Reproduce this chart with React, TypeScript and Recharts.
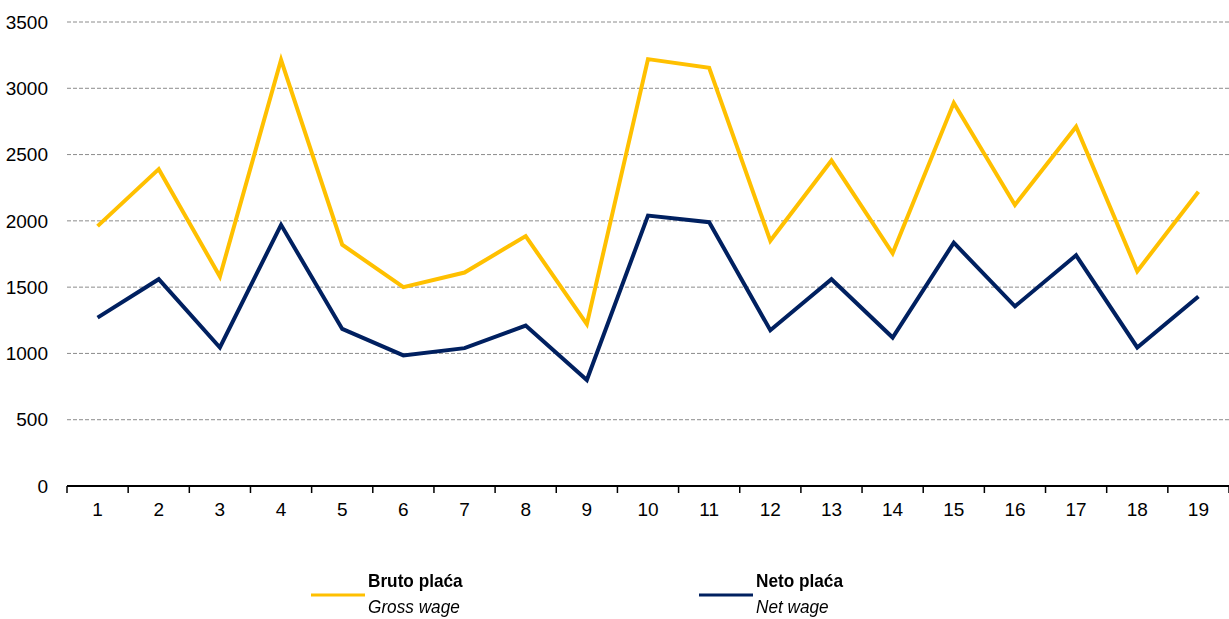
import React from 'react';
import { LineChart, Line, XAxis, YAxis, CartesianGrid, Legend } from 'recharts';

const categories = [1, 2, 3, 4, 5, 6, 7, 8, 9, 10, 11, 12, 13, 14, 15, 16, 17, 18, 19];
const grossWage = [1960, 2390, 1580, 3215, 1820, 1500, 1610, 1885, 1220, 3220, 3155, 1850, 2455, 1755, 2890, 2120, 2710, 1620, 2220];
const netWage = [1270, 1560, 1045, 1970, 1185, 985, 1040, 1210, 800, 2040, 1990, 1175, 1560, 1120, 1835, 1355, 1740, 1045, 1430];
const yTicks = [0, 500, 1000, 1500, 2000, 2500, 3000, 3500];
const boundaryTicks = [0.5, 1.5, 2.5, 3.5, 4.5, 5.5, 6.5, 7.5, 8.5, 9.5, 10.5, 11.5, 12.5, 13.5, 14.5, 15.5, 16.5, 17.5, 18.5, 19.5];
const seriesKeys = ['gross', 'net'];
const seriesTitles = ['Bruto plaća', 'Neto plaća'];
const seriesSubtitles = ['Gross wage', 'Net wage'];
const seriesColors = ['#FFC000', '#002060'];

const data = categories.map((c, i) => ({ cat: c, gross: grossWage[i], net: netWage[i] }));

const FONT = "'Liberation Sans', Arial, sans-serif";

const LegendContent = () => (
  <div style={{ display: 'flex', paddingLeft: 311, fontFamily: FONT, fontSize: 18.5, color: '#000' }}>
    {seriesKeys.map((k, i) => (
      <div key={k} style={{ display: 'flex', width: 388, alignItems: 'flex-start' }}>
        <svg width={57} height={52} style={{ flex: 'none', display: 'block' }}>
          <line x1={0} y1={27} x2={54} y2={27} stroke={seriesColors[i]} strokeWidth={3} />
        </svg>
        <div style={{ lineHeight: '26px', transform: 'scaleX(0.93)', transformOrigin: 'left top', whiteSpace: 'nowrap' }}>
          <div style={{ fontWeight: 'bold' }}>{seriesTitles[i]}</div>
          <div style={{ fontStyle: 'italic' }}>{seriesSubtitles[i]}</div>
        </div>
      </div>
    ))}
  </div>
);

export default function App() {
  return (
    <div style={{ position: 'fixed', left: 0, top: 0, width: 1229, height: 619, background: '#fff' }}>
      <LineChart width={1229} height={619} data={data} margin={{ top: 22, right: 0, left: 0, bottom: 92 }}>
        <CartesianGrid xAxisId="b" vertical={false} stroke="#8c8c8c" strokeDasharray="4 2" strokeWidth={1} />
        <XAxis
          xAxisId="b"
          type="number"
          dataKey="cat"
          domain={[0.5, 19.5]}
          ticks={categories}
          interval={0}
          height={40}
          tickSize={6}
          tickMargin={10}
          axisLine={false}
          tickLine={false}
          tick={{ fill: '#000', fontSize: 19, fontFamily: FONT }}
        />
        <XAxis
          xAxisId="a"
          type="number"
          dataKey="cat"
          domain={[0.5, 19.5]}
          ticks={boundaryTicks}
          height={1}
          interval={0}
          tickSize={7}
          tickFormatter={() => ''}
          axisLine={{ stroke: '#000', strokeWidth: 2 }}
          tickLine={{ stroke: '#000', strokeWidth: 1.5 }}
        />
        <YAxis
          domain={[0, 3500]}
          ticks={yTicks}
          width={67}
          interval={0}
          axisLine={false}
          tickLine={false}
          tickSize={6}
          tickMargin={13}
          tick={{ fill: '#000', fontSize: 19, fontFamily: FONT }}
        />
        <Line xAxisId="b" type="linear" dataKey="gross" stroke={seriesColors[0]} strokeWidth={4} dot={false} isAnimationActive={false} />
        <Line xAxisId="b" type="linear" dataKey="net" stroke={seriesColors[1]} strokeWidth={4} dot={false} isAnimationActive={false} />
        <Legend
          layout="horizontal"
          verticalAlign="middle"
          align="center"
          content={<LegendContent />}
          wrapperStyle={{ left: 0, top: 568, width: 1229, height: 51 }}
        />
      </LineChart>
    </div>
  );
}
